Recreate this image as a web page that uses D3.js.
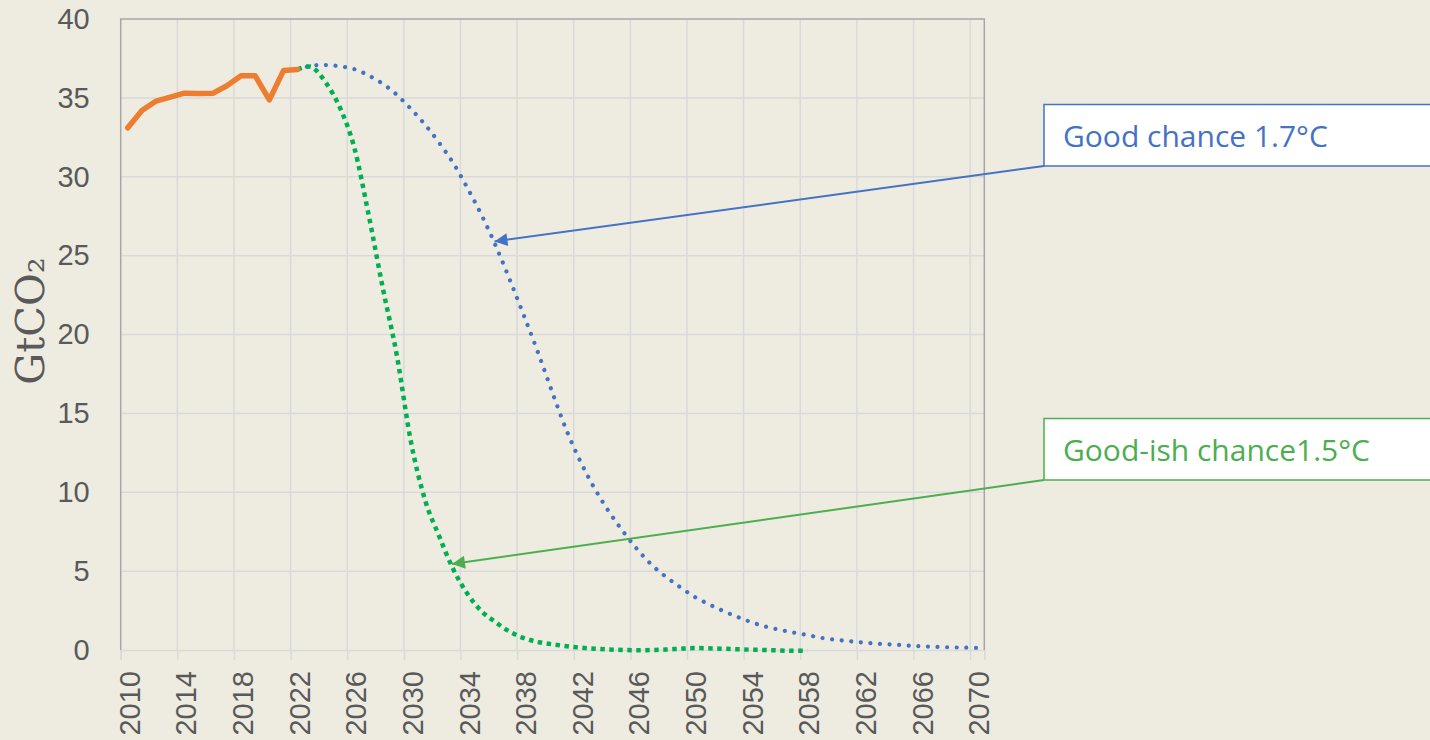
<!DOCTYPE html>
<html>
<head>
<meta charset="utf-8">
<script src="https://cdn.jsdelivr.net/npm/d3@7"></script>
<style>
  html, body { margin: 0; padding: 0; background: #EEECE1; }
  svg { display: block; }
</style>
</head>
<body>
<svg id="chart" width="1430" height="740"></svg>
<script>
// Historical CO2 emissions (GtCO2)
const histYears = [2010, 2011, 2012, 2013, 2014, 2015, 2016, 2017, 2018, 2019, 2020, 2021, 2022];
const histValues = [33.1, 34.2, 34.8, 35.05, 35.3, 35.27, 35.29, 35.77, 36.4, 36.4, 34.87, 36.73, 36.8];

// Pathway with a good-ish chance of 1.5°C
const path15Years = [2022, 2023, 2024, 2025, 2026, 2027, 2028, 2029, 2030, 2031, 2032, 2033, 2034, 2035,
  2036, 2037, 2038, 2039, 2040, 2041, 2042, 2043, 2044, 2045, 2046, 2047, 2048, 2049, 2050, 2051,
  2052, 2053, 2054, 2055, 2056, 2057, 2058];
const path15Values = [36.8, 36.95, 35.95, 34.35, 31.85, 27.65, 23.0, 18.7, 13.2, 9.5, 7.2, 5.1, 3.55, 2.45,
  1.75, 1.15, 0.75, 0.5, 0.36, 0.24, 0.15, 0.08, 0.03, 0.0, -0.02, 0.0, 0.03, 0.08, 0.12, 0.11,
  0.08, 0.05, 0.02, 0.0, -0.03, -0.05, -0.05];

// Pathway with a good chance of 1.7°C
const path17Years = [2022, 2023, 2024, 2025, 2026, 2027, 2028, 2029, 2030, 2031, 2032, 2033, 2034, 2035,
  2036, 2037, 2038, 2039, 2040, 2041, 2042, 2043, 2044, 2045, 2046, 2047, 2048, 2049, 2050, 2051,
  2052, 2053, 2054, 2055, 2056, 2057, 2058, 2059, 2060, 2061, 2062, 2063, 2064, 2065, 2066, 2067,
  2068, 2069, 2070];
const path17Values = [36.8, 37.05, 37.08, 37.0, 36.82, 36.43, 35.9, 35.2, 34.3, 33.3, 32.15, 30.85, 29.27, 27.55,
  25.6, 23.43, 21.15, 18.8, 16.3, 13.9, 11.9, 10.2, 8.75, 7.5, 6.37, 5.4, 4.65, 3.99, 3.39, 2.92,
  2.5, 2.12, 1.78, 1.5, 1.29, 1.11, 0.95, 0.77, 0.65, 0.55, 0.47, 0.39, 0.35, 0.29, 0.24, 0.2,
  0.17, 0.15, 0.13];

// Axis labels
const xTickLabels = ["2010", "2014", "2018", "2022", "2026", "2030", "2034", "2038", "2042", "2046",
  "2050", "2054", "2058", "2062", "2066", "2070"];
const yTickValues = [0, 5, 10, 15, 20, 25, 30, 35, 40];
const yTitle = "GtCO\u2082";

// Callouts: label, point on the curve the arrow points to (year, value)
const calloutLabels = ["Good chance 1.7°C", "Good-ish chance1.5°C"];
const calloutTargetYears = [2035.9, 2032.9];
const calloutTargetValues = [25.9, 5.45];

// ---- layout ----
const plot = { left: 120.7, right: 984.3, top: 19, bottom: 650 };
const svg = d3.select("#chart");

const firstYear = 2010, lastYear = 2070;
const x = d3.scaleLinear().domain([firstYear - 0.5, lastYear + 0.5]).range([plot.left, plot.right]);
const y = d3.scaleLinear().domain([0, 40]).range([plot.bottom, plot.top]);

const gridColor = "#D9D9D9";
const borderColor = "#A6A6A6";
const textColor = "#595959";
const tickFont = "'Liberation Sans', Arial, sans-serif";

// category boundaries every four years
const boundaries = xTickLabels.map(d => +d - 0.5);

const grid = svg.append("g");
grid.selectAll("line.v").data(boundaries.slice(1)).join("line")
  .attr("x1", d => x(d)).attr("x2", d => x(d))
  .attr("y1", plot.top).attr("y2", plot.bottom)
  .attr("stroke", gridColor).attr("stroke-width", 1.5);
grid.selectAll("line.h").data(yTickValues.filter(v => v > 0 && v < 40)).join("line")
  .attr("x1", plot.left).attr("x2", plot.right)
  .attr("y1", d => y(d)).attr("y2", d => y(d))
  .attr("stroke", gridColor).attr("stroke-width", 1.5);

// x axis (category axis, labels centred on categories)
const xAxis = d3.axisBottom(x)
  .tickValues(boundaries)
  .tickSize(10)
  .tickFormat("");
const gx = svg.append("g").attr("transform", `translate(0,${plot.bottom})`).call(xAxis);
gx.select(".domain").attr("stroke", gridColor).attr("stroke-width", 1.5);
gx.selectAll(".tick line").attr("stroke", gridColor).attr("stroke-width", 1.5);

svg.append("g").selectAll("text").data(xTickLabels).join("text")
  .attr("transform", d => `translate(${x(+d) + 1.5},${plot.bottom + 21}) rotate(-90)`)
  .attr("text-anchor", "end")
  .attr("dy", "0.36em")
  .attr("font-family", tickFont)
  .attr("font-size", 29)
  .attr("fill", textColor)
  .text(d => d);

// y axis
const yAxis = d3.axisLeft(y).tickValues(yTickValues).tickSize(0).tickPadding(31);
const gy = svg.append("g").attr("transform", `translate(${plot.left},0)`).call(yAxis);
gy.select(".domain").remove();
gy.selectAll(".tick text")
  .attr("font-family", tickFont)
  .attr("font-size", 29)
  .attr("fill", textColor);

// plot border
svg.append("path")
  .attr("d", `M${plot.left},${plot.bottom}V${plot.top}H${plot.right}V${plot.bottom}`)
  .attr("fill", "none").attr("stroke", borderColor).attr("stroke-width", 1.5);

// y title
svg.append("text")
  .attr("transform", `translate(30,321) rotate(-90)`)
  .attr("text-anchor", "middle")
  .attr("dy", "0.36em")
  .attr("font-family", "'DejaVu Serif', serif")
  .attr("font-size", 40)
  .attr("fill", textColor)
  .text(yTitle);

// ---- series ----
const series = svg.append("g");

const lineLinear = d3.line().x(d => x(d[0])).y(d => y(d[1]));
const lineSmooth = d3.line().x(d => x(d[0])).y(d => y(d[1])).curve(d3.curveCatmullRom.alpha(0));

series.append("path")
  .datum(path17Years.map((yr, i) => [yr, path17Values[i]]))
  .attr("d", lineSmooth)
  .attr("fill", "none")
  .attr("stroke", "#4472C4")
  .attr("stroke-width", 4.2)
  .attr("stroke-linecap", "round")
  .attr("stroke-dasharray", "0.01 9.6");

series.append("path")
  .datum(path15Years.map((yr, i) => [yr, path15Values[i]]))
  .attr("d", lineSmooth)
  .attr("fill", "none")
  .attr("stroke", "#00B050")
  .attr("stroke-width", 4.5)
  .attr("stroke-dasharray", "4.5 4.5");

series.append("path")
  .datum(histYears.map((yr, i) => [yr, histValues[i]]))
  .attr("d", lineLinear)
  .attr("fill", "none")
  .attr("stroke", "#ED7D31")
  .attr("stroke-width", 5.5)
  .attr("stroke-linejoin", "round")
  .attr("stroke-linecap", "round");

// ---- callouts ----
const calloutColors = ["#4472C4", "#4CAE4F"];
const calloutBoxTops = [104.5, 418.5];
const boxLeft = 1044, boxHeight = 61.5;

const defs = svg.append("defs");
calloutColors.forEach((c, i) => {
  defs.append("marker")
    .attr("id", "arrow" + i)
    .attr("viewBox", "0 0 10 10")
    .attr("refX", 10).attr("refY", 5)
    .attr("markerUnits", "userSpaceOnUse")
    .attr("markerWidth", 16).attr("markerHeight", 13)
    .attr("orient", "auto")
    .append("path").attr("d", "M0,0L10,5L0,10Z").attr("fill", c);
});

const callouts = svg.append("g");
calloutLabels.forEach((label, i) => {
  const top = calloutBoxTops[i];
  const c = calloutColors[i];
  callouts.append("line")
    .attr("x1", boxLeft).attr("y1", top + boxHeight)
    .attr("x2", x(calloutTargetYears[i])).attr("y2", y(calloutTargetValues[i]))
    .attr("stroke", c).attr("stroke-width", 2)
    .attr("marker-end", `url(#arrow${i})`);
  callouts.append("rect")
    .attr("x", boxLeft).attr("y", top)
    .attr("width", 420).attr("height", boxHeight)
    .attr("fill", "#FFFFFF").attr("stroke", c).attr("stroke-width", 1.5);
  callouts.append("text")
    .attr("x", boxLeft + 19).attr("y", top + 42)
    .attr("font-family", "'Open Sans', 'Noto Sans', sans-serif")
    .attr("font-size", 30)
    .attr("fill", c)
    .text(label);
});
</script>
</body>
</html>
